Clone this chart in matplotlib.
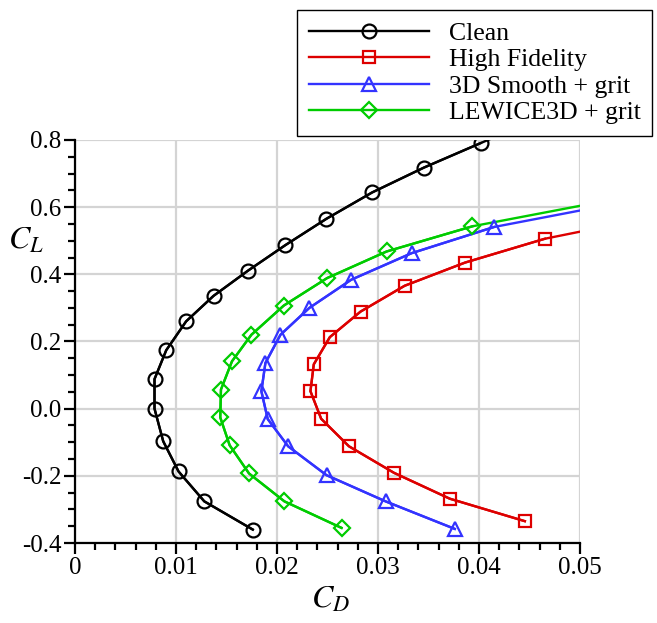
import matplotlib
matplotlib.use("Agg")
import matplotlib.pyplot as plt
from matplotlib.ticker import MultipleLocator, FuncFormatter

plt.rcParams['font.family'] = ['Liberation Serif', 'DejaVu Serif']
plt.rcParams['mathtext.fontset'] = 'stix'
plt.rcParams['axes.unicode_minus'] = False

# drag polars, marked points (bottom to top) plus the unmarked run-out of each curve
clean_cd = [0.0176, 0.0128, 0.01025, 0.00873, 0.00787, 0.00787, 0.00903, 0.0110,
            0.01372, 0.01713, 0.02083, 0.02487, 0.02943, 0.03456, 0.04018]
clean_cl = [-0.360, -0.276, -0.187, -0.097, 0.000, 0.088, 0.174, 0.260,
            0.336, 0.411, 0.487, 0.565, 0.644, 0.718, 0.791]
clean_tail_cd = [0.0440]
clean_tail_cl = [0.840]

hifi_cd = [0.04454, 0.0371, 0.03158, 0.02712, 0.02437, 0.02331, 0.02364, 0.02523,
           0.02827, 0.03264, 0.03862, 0.04653]
hifi_cl = [-0.335, -0.268, -0.191, -0.112, -0.030, 0.052, 0.132, 0.213,
           0.289, 0.366, 0.435, 0.506]
hifi_tail_cd = [0.0500]
hifi_tail_cl = [0.527]

smooth_cd = [0.0376, 0.03075, 0.0249, 0.0211, 0.01908, 0.01845, 0.01885, 0.02034,
             0.0232, 0.02735, 0.03333, 0.0415]
smooth_cl = [-0.358, -0.276, -0.198, -0.112, -0.031, 0.052, 0.136, 0.220,
             0.300, 0.384, 0.463, 0.541]
smooth_tail_cd = [0.0500]
smooth_tail_cl = [0.590]

lewice_cd = [0.02639, 0.02073, 0.01723, 0.01531, 0.01438, 0.01445, 0.01554, 0.01746,
             0.02067, 0.02497, 0.03085, 0.03935]
lewice_cl = [-0.355, -0.276, -0.193, -0.109, -0.026, 0.057, 0.141, 0.220,
             0.307, 0.389, 0.468, 0.543]
lewice_tail_cd = [0.0500]
lewice_tail_cl = [0.604]

series = [
    ("Clean", clean_cd, clean_cl, clean_tail_cd, clean_tail_cl, 'black', 'o', 10),
    ("High Fidelity", hifi_cd, hifi_cl, hifi_tail_cd, hifi_tail_cl, '#dd0000', 's', 9),
    ("3D Smooth + grit", smooth_cd, smooth_cl, smooth_tail_cd, smooth_tail_cl, '#3333ff', '^', 10.5),
    ("LEWICE3D + grit", lewice_cd, lewice_cl, lewice_tail_cd, lewice_tail_cl, '#00cc00', 'D', 8.5),
]

fig = plt.figure(figsize=(6.57, 6.23), dpi=100)
ax = fig.add_axes([0.1142, 0.1284, 0.7686, 0.6469])

for label, cd, cl, tcd, tcl, color, marker, ms in series:
    ax.plot(cd + tcd, cl + tcl, color=color, lw=1.7, zorder=2)
    ax.plot(cd, cl, color=color, lw=1.7, marker=marker, ms=ms,
            mfc='none', mec=color, mew=1.6, label=label, zorder=3)

ax.set_xlim(0, 0.05)
ax.set_ylim(-0.4, 0.8)
ax.xaxis.set_major_locator(MultipleLocator(0.01))
ax.xaxis.set_minor_locator(MultipleLocator(0.002))
ax.yaxis.set_major_locator(MultipleLocator(0.2))
ax.yaxis.set_minor_locator(MultipleLocator(0.05))
ax.xaxis.set_major_formatter(FuncFormatter(lambda v, p: '0' if abs(v) < 1e-9 else '%.2f' % v))
ax.yaxis.set_major_formatter(FuncFormatter(lambda v, p: '%.1f' % (0.0 if abs(v) < 1e-9 else v)))

ax.grid(True, which='major', color='#d4d4d4', lw=1.6, zorder=0)
ax.set_axisbelow(True)
for s in ('top', 'right'):
    ax.spines[s].set_visible(False)
for s in ('left', 'bottom'):
    ax.spines[s].set_linewidth(1.6)

ax.tick_params(which='major', direction='out', length=8, width=1.6, labelsize=18, pad=2)
ax.tick_params(which='minor', direction='out', length=5, width=1.6)

ax.set_xlabel('$C_D$', fontsize=23)
ax.set_ylabel('$C_L$', fontsize=23, rotation=0)
ax.yaxis.label.set_va('center')
ax.yaxis.label.set_ha('center')
ax.xaxis.label.set_va('center')
ax.yaxis.set_label_coords(-0.098, 0.75)
ax.xaxis.set_label_coords(0.505, -0.142)

leg = fig.legend(loc='upper left', bbox_to_anchor=(0.452, 0.984), fontsize=18.5,
                 frameon=True, fancybox=False, edgecolor='black', framealpha=1,
                 handlelength=4.7, handletextpad=0.75, labelspacing=0.14,
                 borderpad=0.45, borderaxespad=0.0, numpoints=1)
leg.get_frame().set_linewidth(1.0)

fig.savefig('out.png', dpi=100)
